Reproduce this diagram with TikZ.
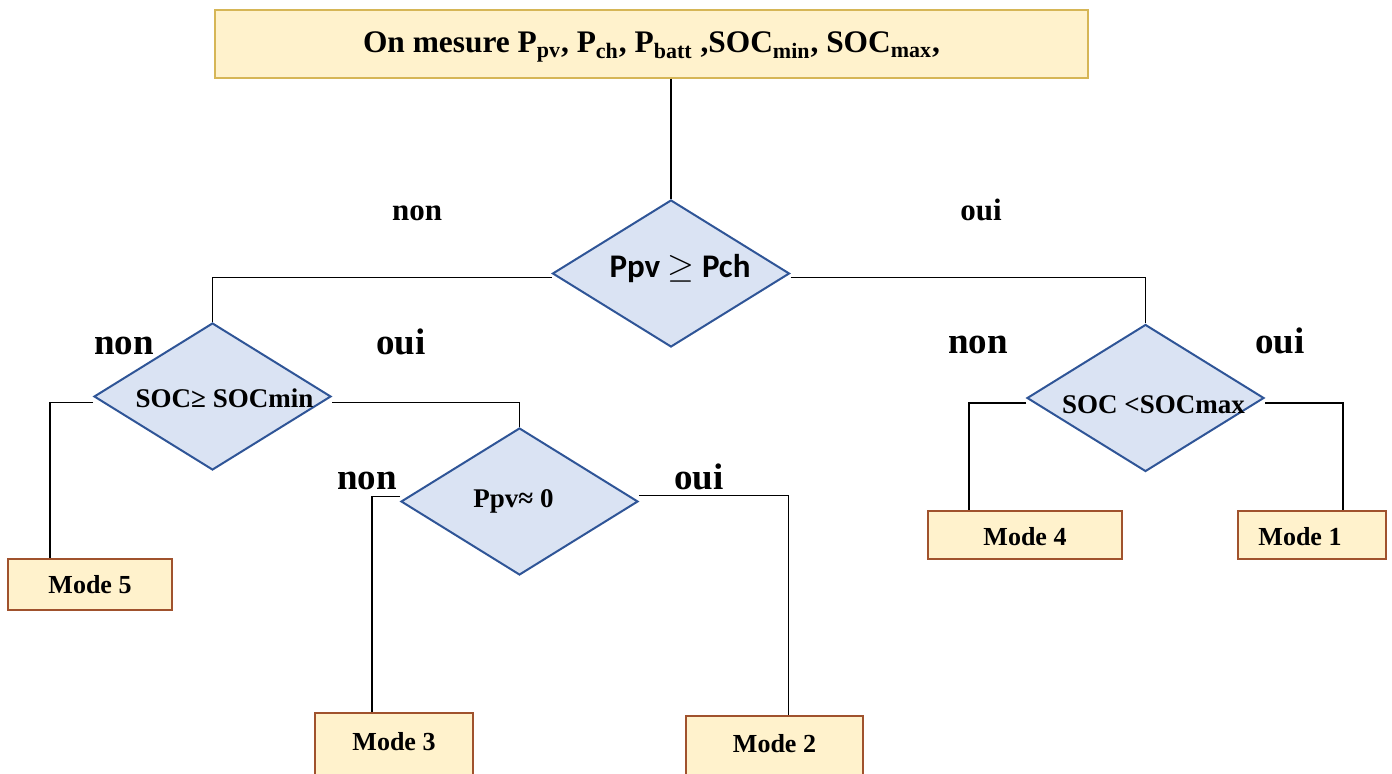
\documentclass[tikz,border=0pt]{standalone}
\usepackage{fontspec}
\setmainfont{Liberation Serif}
\newfontfamily\carlito{Carlito}
\usetikzlibrary{shapes.geometric,positioning}
\definecolor{boxFill}{HTML}{FFF2CC}
\definecolor{boxStroke}{HTML}{D6B656}
\definecolor{modeStroke}{HTML}{A0522D}
\definecolor{decFill}{HTML}{DAE3F3}
\definecolor{decStroke}{HTML}{2F5597}

\begin{document}
\begin{tikzpicture}[
    x=0.5pt, y=-0.5pt,
    inputNode/.style={
        rectangle,
        draw=boxStroke, line width=0.75pt,
        fill=boxFill,
        minimum width=436.5pt, minimum height=34pt,
        font=\fontsize{15.7}{19}\selectfont\bfseries
    },
    modeNode/.style={
        rectangle,
        draw=modeStroke, line width=0.75pt,
        fill=boxFill,
        minimum height=24pt,
        font=\fontsize{13}{15}\selectfont\bfseries
    },
    decNode/.style={
        diamond, aspect=1.6, inner sep=-6pt,
        draw=decStroke, line width=1pt,
        fill=decFill,
        minimum width=118.5pt, minimum height=73.5pt,
        font=\fontsize{13.5}{16}\selectfont\bfseries
    },
    answer/.style={anchor=base, font=\fontsize{18.5}{22}\selectfont\bfseries},
    answerTop/.style={anchor=base, font=\fontsize{15.5}{18}\selectfont\bfseries},
    link/.style={draw=black, line width=0.6pt}
]
\useasboundingbox (0,0) rectangle (1392,774);
\clip (0,0) rectangle (1392,774);

% Layout plan: measurement box on top, one decision tree below, modes as leaves.
\node[inputNode, text height=13.5pt] (Measure) at (651.5, 44)
  {On mesure P\textsubscript{pv}, P\textsubscript{ch}, P\textsubscript{batt} ,SOC\textsubscript{min}, SOC\textsubscript{max},};

\node[decNode, font=\carlito\fontsize{16.5}{20}\selectfont\bfseries, text depth=7.3pt] (PowerTest) at (671, 273.5)
  {\hspace*{9pt}Ppv $\geq$ Pch};
\node[decNode, text height=11pt] (SocMinTest) at (212.5, 396.5) {\hspace*{12pt}SOC≥ SOCmin};
\node[decNode] (ZeroTest) at (519.5, 501.5) {Ppv≈ 0\hspace*{6pt}};
\node[decNode, text height=16pt] (SocMaxTest) at (1145.5, 398) {\hspace*{8pt}SOC <SOCmax};

\node[modeNode, minimum width=82pt, minimum height=25.5pt] (ModeFive) at (90, 584.5) {Mode 5};
\node[modeNode, minimum width=79pt, minimum height=33pt, text depth=5pt] (ModeThree) at (394, 746) {Mode 3};
\node[modeNode, minimum width=88.5pt, minimum height=33pt, text depth=6pt] (ModeTwo) at (774.5, 749) {Mode 2};
\node[modeNode, minimum width=97pt, text height=11pt] (ModeFour) at (1025, 535) {Mode 4};
\node[modeNode, minimum width=74pt, text height=11pt] (ModeOne) at (1312, 535) {Mode 1\hspace*{12pt}};

\node[answerTop] (NonTop) at (417, 221) {non};
\node[answerTop] (OuiTop) at (981, 221) {oui};
\node[answer] (NonSocMin) at (124, 355) {non};
\node[answer] (OuiSocMin) at (401, 355) {oui};
\node[answer] (NonZero) at (367, 490) {non};
\node[answer] (OuiZero) at (699, 490) {oui};
\node[answer] (NonSocMax) at (978, 354) {non};
\node[answer] (OuiSocMax) at (1280, 354) {oui};

\draw[link] (Measure.south -| PowerTest.north) -- (PowerTest.north);
\draw[link] ([yshift=-2pt]PowerTest.west) -| (SocMinTest.north);
\draw[link] ([yshift=-2pt]PowerTest.east) -| (SocMaxTest.north);
\draw[link] ([yshift=-3pt]SocMinTest.west) -| ([xshift=-20pt]ModeFive.north);
\draw[link] ([yshift=-3pt]SocMinTest.east) -| (ZeroTest.north);
\draw[link] ([yshift=2.5pt]ZeroTest.west) -| ([xshift=-11pt]ModeThree.north);
\draw[link] ([yshift=3pt]ZeroTest.east) -| ([xshift=7pt]ModeTwo.north);
\draw[link] ([yshift=-2.5pt]SocMaxTest.west) -| ([xshift=-28pt]ModeFour.north);
\draw[link] ([yshift=-2.5pt]SocMaxTest.east) -| ([xshift=15.5pt]ModeOne.north);

\end{tikzpicture}
\end{document}
